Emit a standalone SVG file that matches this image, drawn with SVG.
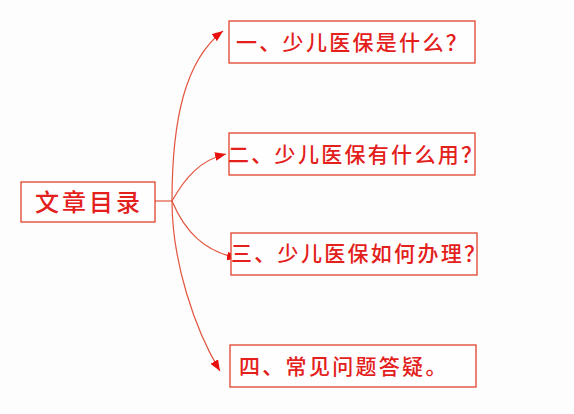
<svg xmlns="http://www.w3.org/2000/svg" width="574" height="414" viewBox="0 0 574 414">
<defs>
<style>
.box{fill:#fefefe;stroke:#e0422e;stroke-width:1.3}
.t{font-family:"Noto Sans CJK SC","Noto Sans",sans-serif;fill:#e3201b;font-size:21px;font-weight:500;letter-spacing:2.3px}
.tm{font-family:"Noto Sans CJK SC","Noto Sans",sans-serif;fill:#e3201b;font-size:24px;font-weight:500;letter-spacing:3px}
.c{fill:none;stroke:#e2553f;stroke-width:1.2}
</style>
<marker id="ah" viewBox="0 0 10 8" refX="10" refY="4" markerWidth="11" markerHeight="9" markerUnits="userSpaceOnUse" orient="auto">
<path d="M0,0 L10,4 L0,8 z" fill="#e8100c"/>
</marker>
</defs>
<rect width="574" height="414" fill="#fdfdfd"/>
<g id="connectors">
<line class="c" x1="155" y1="201" x2="172" y2="201"/>
<path class="c" d="M172,201 C172,120 185,60 223,31" marker-end="url(#ah)"/>
<path class="c" d="M172,201 C185,178 200,160 226,154" marker-end="url(#ah)"/>
<path class="c" d="M172,201 C185,232 205,252 238,258" marker-end="url(#ah)"/>
<path class="c" d="M172,201 C172,262 195,330 220,371" marker-end="url(#ah)"/>
</g>
<g id="root">
<rect class="box" x="21" y="182" width="134" height="40"/>
<text class="tm" x="35" y="211">文章目录</text>
</g>
<g id="n1">
<rect class="box" x="229" y="21" width="246" height="42"/>
<text class="t" x="236" y="50">一、少儿医保是什么？</text>
</g>
<g id="n2">
<rect class="box" x="229" y="133" width="246" height="42"/>
<text class="t" x="228" y="162">二、少儿医保有什么用？</text>
</g>
<g id="n3">
<rect class="box" x="231" y="233" width="246" height="42"/>
<text class="t" x="231" y="261">三、少儿医保如何办理？</text>
</g>
<g id="n4">
<rect class="box" x="230" y="345" width="246" height="42"/>
<text class="t" x="239" y="374">四、常见问题答疑。</text>
</g>
</svg>
